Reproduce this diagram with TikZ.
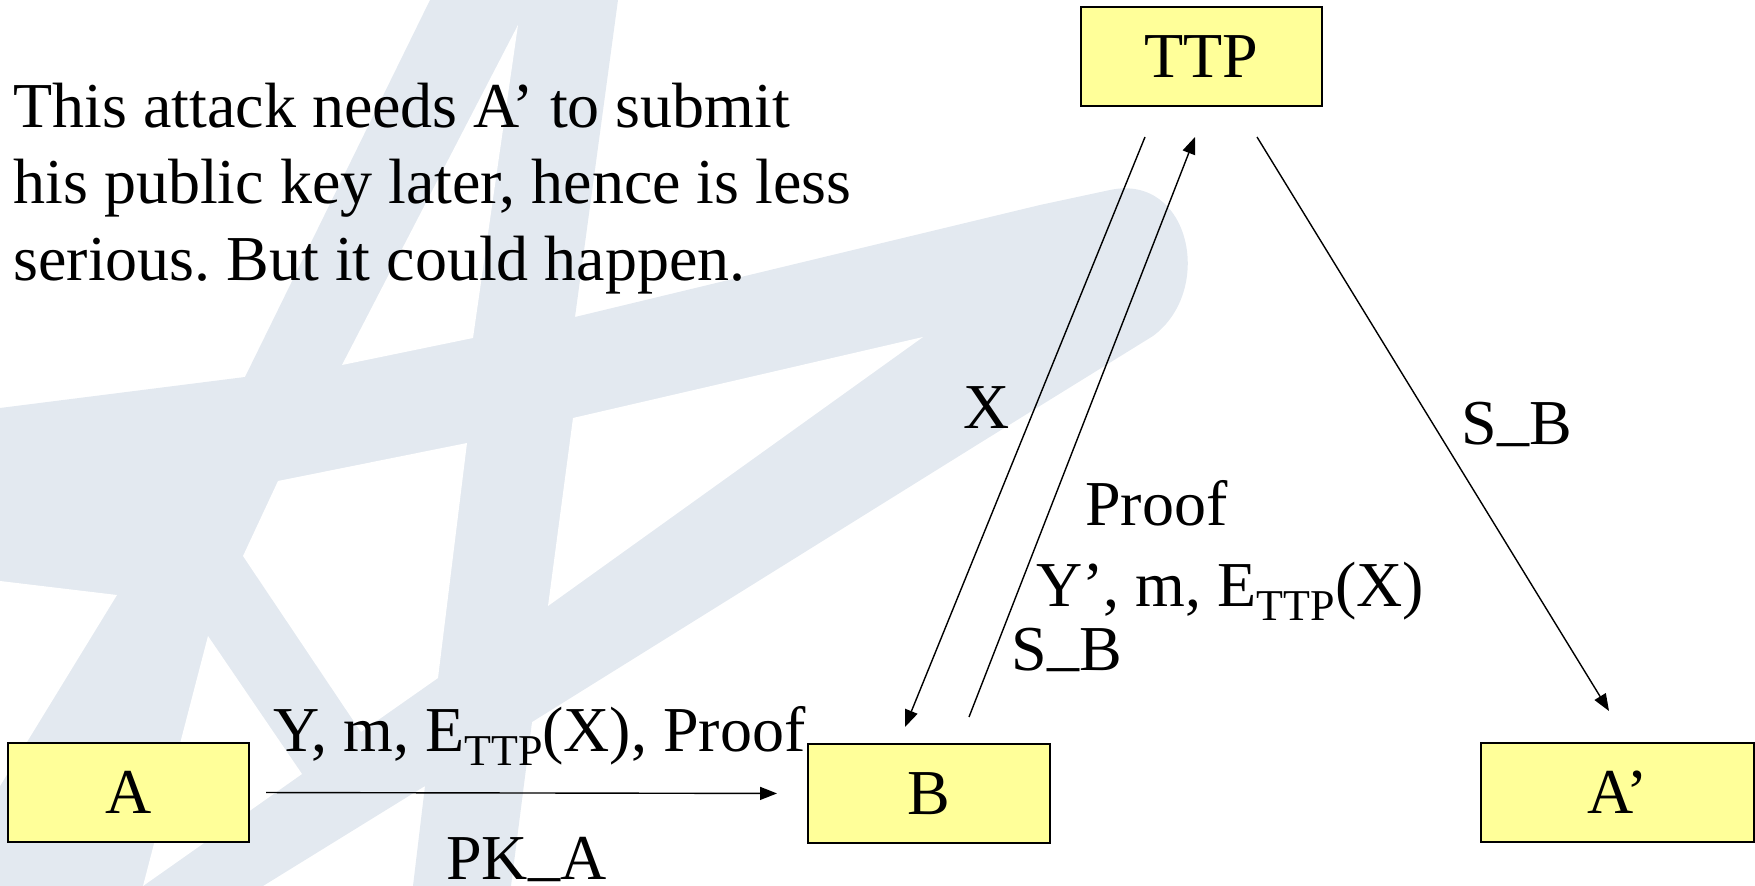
\documentclass[tikz,border=0pt]{standalone}
\usepackage{fontspec}
\setmainfont{Liberation Serif}
\usetikzlibrary{arrows.meta}
\definecolor{wm}{RGB}{227,233,240}
\definecolor{boxfill}{RGB}{255,255,153}
\newcommand{\ttpsub}{\raisebox{-7pt}{\fontsize{22pt}{22pt}\selectfont TTP}}
\newcommand{\usc}{\raisebox{3pt}{\_}}
\frenchspacing
\begin{document}
\begin{tikzpicture}[x=0.5pt,y=-0.5pt,
  box/.style={draw=black, line width=1pt, fill=boxfill, inner sep=0pt,
    minimum height=49.5pt, font=\fontsize{32pt}{38pt}\selectfont},
  lbl/.style={inner sep=0pt, anchor=base west, font=\fontsize{32pt}{38pt}\selectfont},
  conn/.style={draw=black, line width=0.7pt, -{Triangle[length=8.5pt,width=6.5pt]}}]
\useasboundingbox (0,0) rectangle (1755,886);
% watermark
\fill[wm] (430,0) -- (618,0) -- (575,317) -- (1040,205) -- (1110,190)
  .. controls (1190,173) and (1215,290) .. (1153,336) -- (980,443) -- (532,722)
  -- (511,886) -- (413,886) -- (425,786) -- (263,886) -- (0,886) -- (0,408)
  -- (245,377) -- cycle;
\fill[white] (518,25) -- (342,365) -- (473,338) -- cycle;
\fill[white] (923,337) -- (573,418) -- (548,606) -- cycle;
\fill[white] (278,481) -- (467,443) -- (438,678) -- (361,732) -- (243,556) -- cycle;
\fill[white] (208,636) -- (302,774) -- (143,886) -- cycle;
\fill[white] (0,581) -- (117,595) -- (0,786) -- cycle;
% boxes
\node[box, minimum width=120.5pt] (TTP) at (1201.5,56.5) {TTP};
\node[box, minimum width=120.5pt] (A) at (128.5,792.5) {A};
\node[box, minimum width=121pt] (B) at (929,793.5) {B};
\node[box, minimum width=136.5pt] (Ap) at (1617.5,792.5) {A’};
% text
\node[lbl] (p1) at (13,128) {This attack needs A’ to submit};
\node[lbl] (p2) at (13,204) {his public key later, hence is less};
\node[lbl] (p3) at (13,281) {serious. But it could happen.};
\node[lbl] (lX) at (963,429) {X};
\node[lbl] (lSB1) at (1461,445) {S\usc B};
\node[lbl] (lProof) at (1085,526) {Proof};
\node[lbl] (lY) at (1036,607) {Y’, m, E\ttpsub(X)};
\node[lbl] (lSB2) at (1011,670) {S\usc B};
\node[lbl] (lYm) at (273,751) {Y, m, E\ttpsub(X), Proof};
\node[lbl] (lPK) at (446,879) {PK\usc A};
% connectors
\coordinate (x1) at ([shift={(-56.5,30)}]TTP.south);
\coordinate (x2) at ([shift={(-24,-16)}]B.north);
\coordinate (p1s) at ([shift={(40,-26)}]B.north);
\coordinate (p1e) at ([shift={(-6.5,30)}]TTP.south);
\coordinate (s1) at ([shift={(55.5,30)}]TTP.south);
\coordinate (s2) at ([shift={(-8.5,-31)}]Ap.north);
\draw[conn, shorten <=8pt, shorten >=15pt] (A.east) -- (B.west);
\draw[conn] (x1) -- (x2);
\draw[conn] (p1s) -- (p1e);
\draw[conn] (s1) -- (s2);
\end{tikzpicture}
\end{document}
